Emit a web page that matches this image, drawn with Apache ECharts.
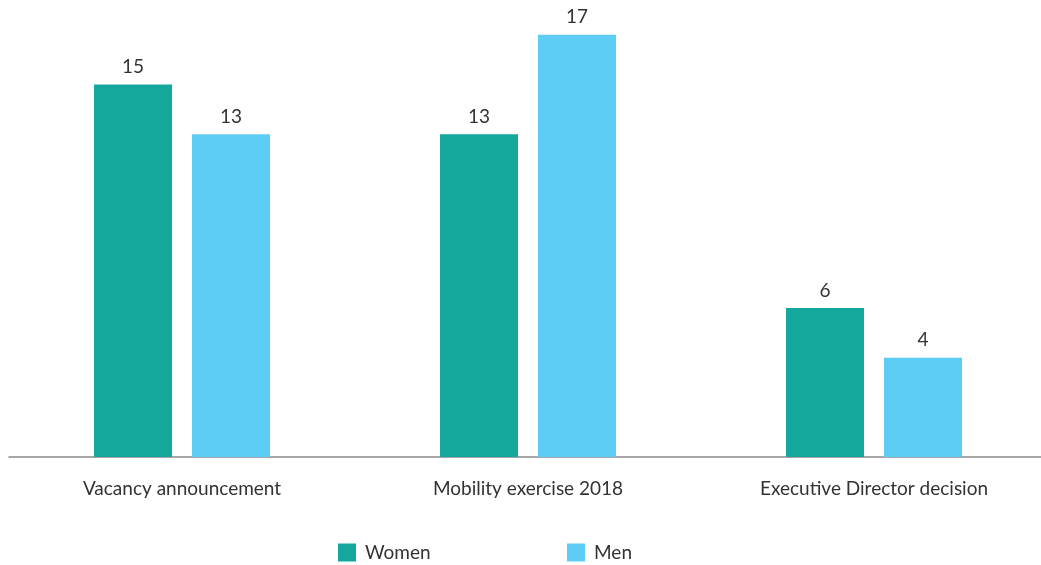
<!DOCTYPE html>
<html>
<head>
<meta charset="utf-8">
<script src="https://cdn.jsdelivr.net/npm/echarts@6/dist/echarts.min.js"></script>
<style>html,body{margin:0;padding:0;background:#fff}#c{width:1041px;height:565px}</style>
</head>
<body>
<div id="c"></div>
<script>
const categories = ['Vacancy announcement', 'Mobility exercise 2018', 'Executive Director decision'];
const women = [15, 13, 6];
const men = [13, 17, 4];
const seriesNames = ['Women', 'Men'];

const FONT = 'Lato';
const chart = echarts.init(document.getElementById('c'));
chart.setOption({
  animation: false,
  backgroundColor: '#fff',
  textStyle: { fontFamily: FONT },
  grid: { left: 9, width: 1038, top: 10, bottom: 108, containLabel: false, outerBoundsMode: 'none' },
  legend: [
    { data: [seriesNames[0]], left: 338, top: 543, padding: 0, itemWidth: 18, itemHeight: 18, icon: 'rect',
      textStyle: { fontFamily: FONT, fontSize: 19, color: '#333', padding: [2, 0, 0, 4] } },
    { data: [seriesNames[1]], left: 567, top: 543, padding: 0, itemWidth: 18, itemHeight: 18, icon: 'rect',
      textStyle: { fontFamily: FONT, fontSize: 19, color: '#333', padding: [2, 0, 0, 4] } }
  ],
  xAxis: {
    type: 'category',
    data: categories,
    axisLine: { lineStyle: { color: '#8a8a8a', width: 1.5 } },
    axisTick: { show: false },
    axisLabel: { fontFamily: FONT, fontSize: 19, color: '#333', margin: 22 }
  },
  yAxis: { type: 'value', min: 0, max: 18, show: false, splitLine: { show: false } },
  series: [
    { name: seriesNames[0], type: 'bar', data: women, barWidth: 78, barGap: '25.6%',
      itemStyle: { color: '#13a89b' },
      label: { show: true, position: 'top', distance: 8, fontFamily: FONT, fontSize: 19, color: '#333' } },
    { name: seriesNames[1], type: 'bar', data: men, barWidth: 78,
      itemStyle: { color: '#5ecdf6' },
      label: { show: true, position: 'top', distance: 8, fontFamily: FONT, fontSize: 19, color: '#333' } }
  ]
});
</script>
</body>
</html>
